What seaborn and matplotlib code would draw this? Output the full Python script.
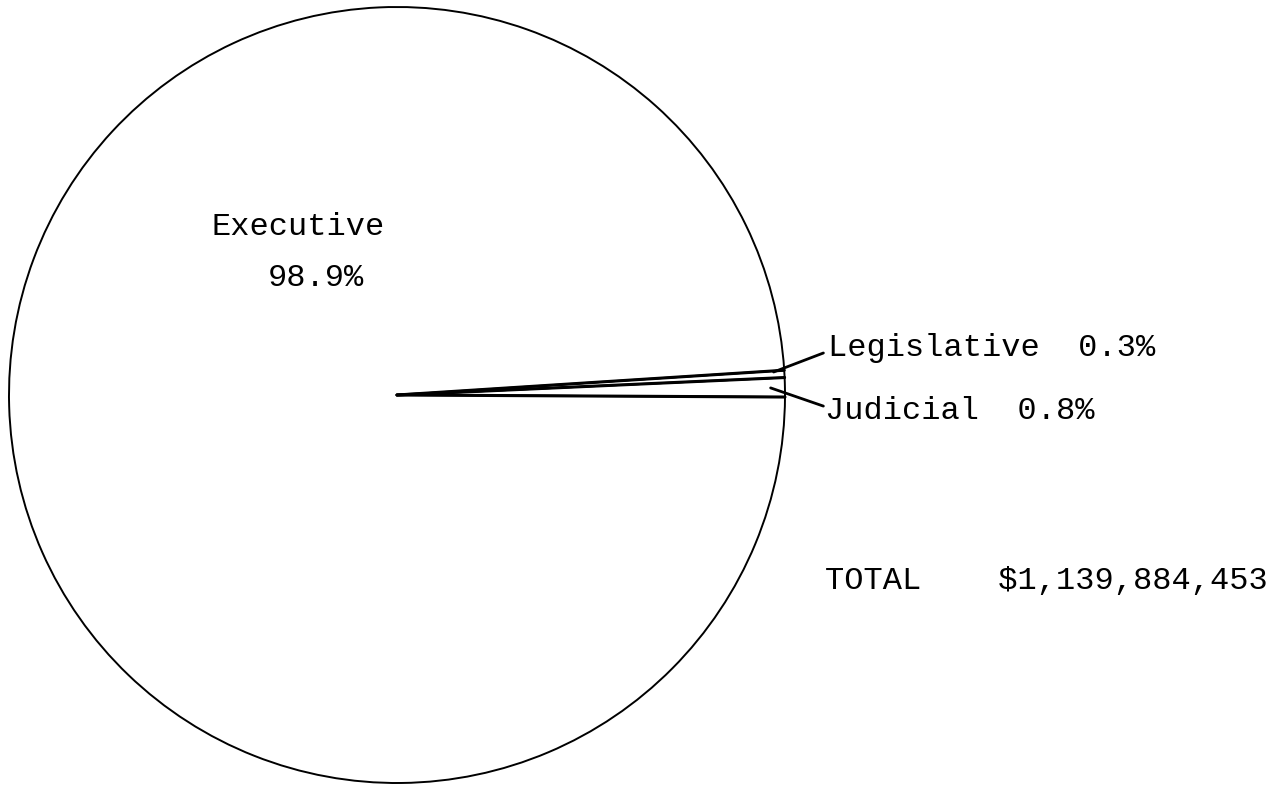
import matplotlib
matplotlib.use('Agg')
import matplotlib.pyplot as plt
import numpy as np
import seaborn as sns

# Data
branches = ['Judicial', 'Legislative', 'Executive']
shares = [0.8, 0.3, 98.9]
total_label = '$1,139,884,453'

sns.set_theme(style='white')
plt.rcParams['font.family'] = ['Liberation Mono', 'DejaVu Sans Mono']
plt.rcParams['text.color'] = 'black'

W, H = 1271, 785


def iy(y):
    # image row -> data y
    return H - y


fig = plt.figure(figsize=(W / 100, H / 100), dpi=100)
ax = fig.add_axes([0, 0, 1, 1])

cx, cy, r = 397, iy(395), 388
start = -0.3
ax.pie(shares, startangle=start, counterclock=True, center=(cx, cy), radius=r,
       colors=['white'] * len(shares),
       wedgeprops=dict(edgecolor='black', linewidth=1.4))

# heavier radial edges between the slices
bounds = start + 360 * np.cumsum([0] + shares[:-1]) / sum(shares)
for a in bounds:
    t = np.deg2rad(a)
    ax.plot([cx, cx + r * np.cos(t)], [cy, cy + r * np.sin(t)],
            color='black', lw=2.2, solid_capstyle='round')

ax.set_xlim(0, W)
ax.set_ylim(0, H)
ax.set_aspect('equal')
ax.axis('off')

fs = 23
ax.text(212, iy(227), 'Executive', fontsize=fs, va='center', ha='left')
ax.text(268, iy(278), f'{shares[2]}%', fontsize=fs, va='center', ha='left')
ax.text(828, iy(348), f'Legislative  {shares[1]}%', fontsize=fs, va='center', ha='left')
ax.text(825, iy(411), f'Judicial  {shares[0]}%', fontsize=fs, va='center', ha='left')
ax.text(825, iy(581), f'TOTAL    {total_label}', fontsize=fs, va='center', ha='left')

# leader lines
ax.annotate('', xy=(771, iy(373)), xytext=(826, iy(352)),
            arrowprops=dict(arrowstyle='-', lw=2, color='black'))
ax.annotate('', xy=(768, iy(387)), xytext=(826, iy(407)),
            arrowprops=dict(arrowstyle='-', lw=2, color='black'))

fig.savefig('out.png', dpi=100, facecolor='white')
